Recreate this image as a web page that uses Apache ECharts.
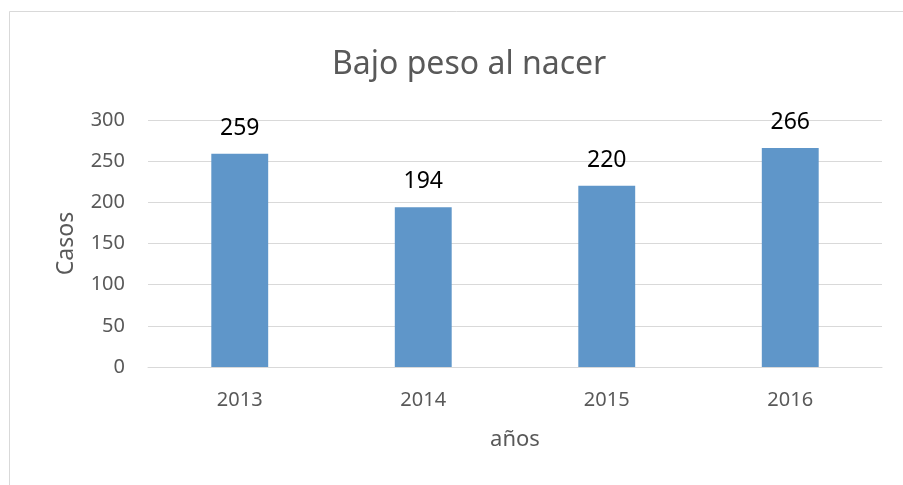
<!DOCTYPE html>
<html>
<head>
<meta charset="utf-8">
<script src="https://cdn.jsdelivr.net/npm/echarts@6/dist/echarts.min.js"></script>
<style>
  html, body { margin: 0; padding: 0; background: #fff; }
  #chart { width: 903px; height: 485px; }
</style>
</head>
<body>
<div id="chart"></div>
<script>
var years = ['2013', '2014', '2015', '2016'];
var casos = [259, 194, 220, 266];
var yTicks = [0, 50, 100, 150, 200, 250, 300];

var myChart = echarts.init(document.getElementById('chart'));

var font = 'Noto Sans';

var option = {
	backgroundColor: '#ffffff',
	animation: false,
	title: {
		text: 'Bajo peso al nacer',
		left: 327,
		top: 44,
		textStyle: {
			fontFamily: font,
			fontSize: 32,
			fontWeight: 'normal',
			color: '#595959'
		}
	},
	graphic: [
		{
			type: 'rect',
			shape: { x: 9.5, y: 11.5, width: 1000, height: 1000 },
			style: { fill: 'none', stroke: '#d9d9d9', lineWidth: 1 },
			silent: true
		}
	],
	grid: {
		left: 148,
		right: 21,
		top: 120,
		bottom: 118
	},
	xAxis: {
		type: 'category',
		data: years,
		name: 'años',
		nameLocation: 'middle',
		nameGap: 62,
		nameTextStyle: { fontFamily: font, fontSize: 22, color: '#595959' },
		axisLine: { lineStyle: { color: '#d9d9d9', width: 1 } },
		axisTick: { show: false },
		axisLabel: { fontFamily: font, fontSize: 20, color: '#595959', margin: 23 }
	},
	yAxis: {
		type: 'value',
		min: yTicks[0],
		max: yTicks[yTicks.length - 1],
		interval: 50,
		name: 'Casos',
		nameLocation: 'middle',
		nameGap: 70,
		nameTextStyle: { fontFamily: font, fontSize: 23, color: '#595959' },
		axisLine: { show: false },
		axisTick: { show: false },
		axisLabel: { fontFamily: font, fontSize: 20, color: '#595959', margin: 23 },
		splitLine: { lineStyle: { color: '#d9d9d9', width: 1 } }
	},
	series: [
		{
			name: 'Casos',
			type: 'bar',
			data: casos,
			barWidth: '31%',
			itemStyle: { color: '#5f96c9' },
			label: {
				show: true,
				position: 'top',
				distance: 14,
				fontFamily: font,
				fontSize: 23,
				color: '#000000'
			}
		}
	]
};

myChart.setOption(option);
</script>
</body>
</html>
